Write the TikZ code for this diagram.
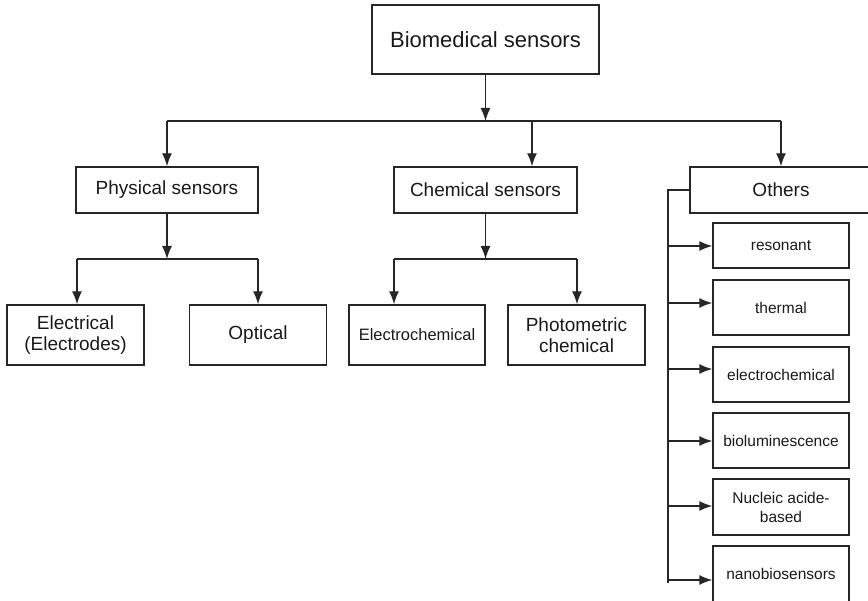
\documentclass[tikz,border=0pt]{standalone}
\usepackage{fontspec}
\setmainfont{Liberation Sans}
\usetikzlibrary{arrows.meta}

\tikzset{
  box/.style={rectangle, draw=black!85, line width=1.4pt, text=black!90,
              inner sep=0pt, align=center},
  bigbox/.style={box, font=\fontsize{19}{21}\selectfont, minimum height=46pt},
  leafbox/.style={box, font=\fontsize{19}{21}\selectfont, minimum width=137pt, minimum height=60pt},
  subbox/.style={box, font=\fontsize{15.5}{19}\selectfont, minimum width=136pt},
  link/.style={draw=black!85, line width=1.4pt},
  arr/.style={link, -{Latex[length=13pt,width=10pt]}}
}

\begin{document}
\begin{tikzpicture}[x=1pt, y=-1pt]
\useasboundingbox (0,0) rectangle (868,601);

% top
\node[box, font=\fontsize{22}{24}\selectfont, minimum width=227pt, minimum height=69pt]
  (bio) at (485.5,39.5) {Biomedical sensors};

% second row
\node[bigbox, minimum width=182pt] (phys) at (167,190) {Physical sensors};
\node[bigbox, minimum width=183pt] (chem) at (485.5,190) {Chemical sensors};
\node[bigbox, minimum width=182pt] (oth) at (781,190) {Others};

% third row
\node[leafbox] (elec) at (75.5,335) {Electrical\\(Electrodes)};
\node[leafbox] (opt) at (258,335) {Optical};
\node[leafbox, minimum width=136pt, font=\fontsize{16.5}{19}\selectfont] (echem) at (417,335) {Electrochemical};
\node[leafbox] (photo) at (576.5,335) {Photometric\\chemical};

% others list
\node[subbox, minimum height=45pt] (reso) at (781,245.5) {resonant};
\node[subbox, minimum height=55pt] (therm) at (781,307.5) {thermal};
\node[subbox, minimum height=55pt] (oechem) at (781,374.5) {electrochemical};
\node[subbox, minimum height=55pt] (biolum) at (781,440.5) {bioluminescence};
\node[subbox, minimum height=56pt] (nucl) at (781,507) {Nucleic acide-\\based};
\node[subbox, minimum height=56pt] (nano) at (781,574) {nanobiosensors};

% bus lines
\coordinate (topL) at (167,121);
\coordinate (topC) at (532,121);
\coordinate (topR) at (781,121);
\coordinate (physL) at (77,259);
\coordinate (physR) at (258,259);
\coordinate (chemL) at (394,259);
\coordinate (chemR) at (577,259);
\coordinate (spine) at (668,190);
\coordinate (spineEnd) at (668,583);

\draw[arr] (bio.south) -- (bio.south |- topL);
\draw[link] (topL) -- (topR);
\draw[arr] (topL) -- (phys.north);
\draw[arr] (topC) -- (topC |- chem.north);
\draw[arr] (topR) -- (oth.north);

\draw[arr] (phys.south) -- (phys.south |- physL);
\draw[link] (physL) -- (physR);
\draw[arr] (physL) -- (physL |- elec.north);
\draw[arr] (physR) -- (opt.north);

\draw[arr] (chem.south) -- (chem.south |- chemL);
\draw[link] (chemL) -- (chemR);
\draw[arr] (chemL) -- (chemL |- echem.north);
\draw[arr] (chemR) -- (chemR |- photo.north);

\draw[link] (oth.west) -- (spine) -- (spineEnd);
\foreach \n/\yy in {reso/246, therm/303, oechem/369, biolum/441, nucl/506, nano/580}
  \draw[arr] (668,\yy) -- (\n.west |- 0,\yy);
\end{tikzpicture}
\end{document}
